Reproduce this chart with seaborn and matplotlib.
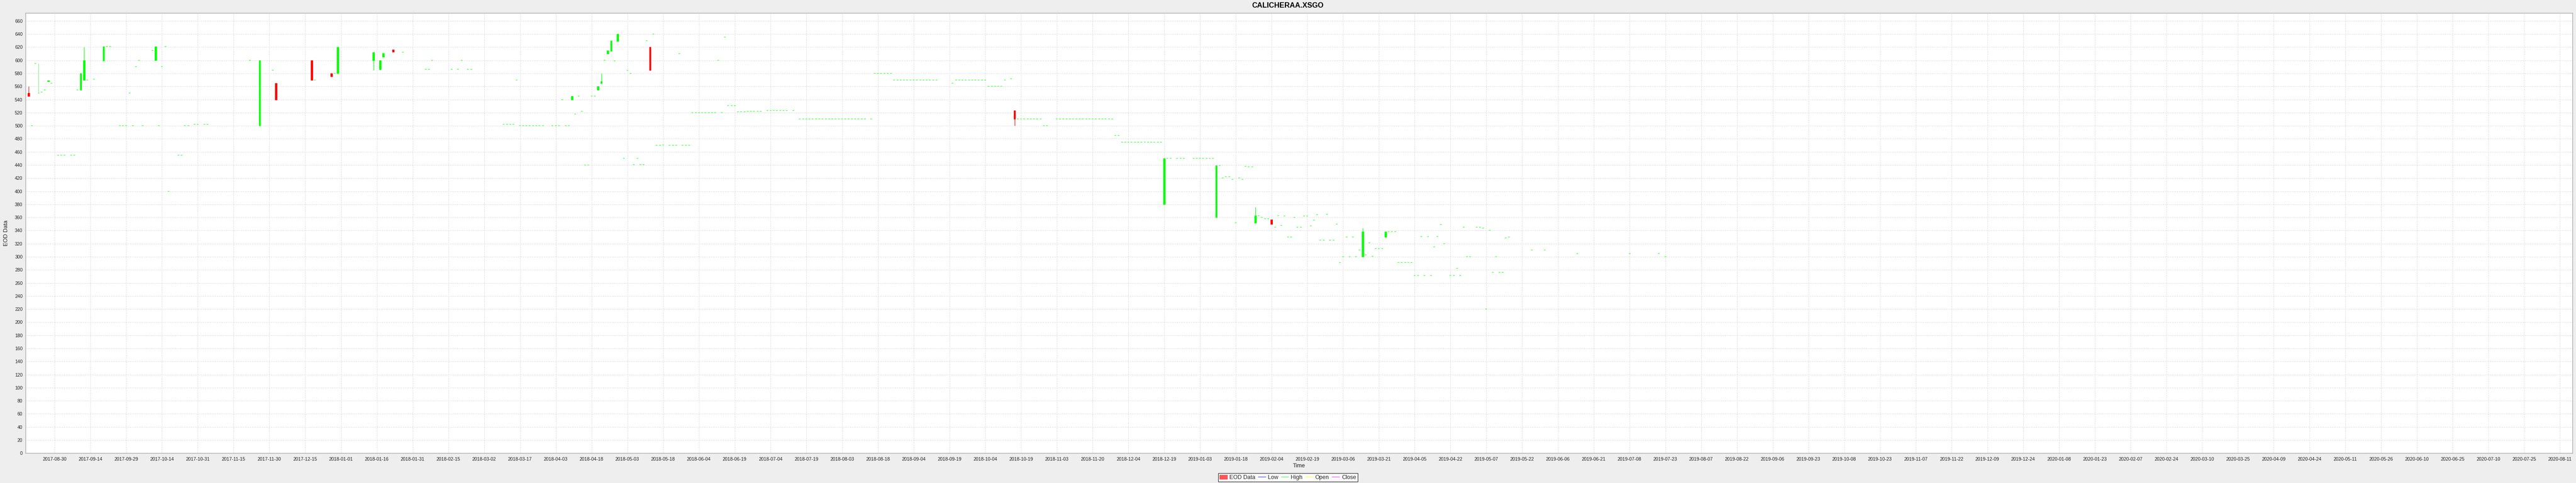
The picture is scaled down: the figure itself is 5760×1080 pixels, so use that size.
import matplotlib
matplotlib.use("Agg")
import matplotlib.pyplot as plt
import matplotlib.patches as mpatches
import matplotlib.lines as mlines
import pandas as pd
import seaborn as sns

# x axis is a Mon-Fri timeline: one unit = one weekday, day 0 = 2017-08-17
# Candles with a real body (day, open, high, low, close)
cndl_day = [1, 4, 7, 17, 18, 24, 40, 72, 77, 88, 94, 96, 107, 109, 110, 113,
            168, 176, 177, 179, 180, 182, 192, 304, 350, 366, 378, 383, 411, 418]
cndl_open = [550, 550, 568, 555, 570, 599, 600, 500, 565, 600, 580, 580, 600, 586, 605, 616,
             540, 555, 565, 610, 614, 629, 620, 523, 380, 360, 352, 357, 300, 330]
cndl_high = [560, 595, 570, 580, 620, 621, 621, 600, 565, 600, 580, 620, 612, 600, 611, 616,
             545, 560, 580, 615, 630, 640, 620, 523, 450, 439, 376, 357, 344, 338]
cndl_low = [545, 550, 568, 555, 570, 599, 600, 500, 540, 570, 575, 580, 585, 586, 605, 613,
            540, 555, 565, 610, 614, 629, 585, 500, 380, 360, 352, 350, 300, 330]
cndl_close = [545, 550, 569, 580, 600, 621, 621, 600, 540, 570, 575, 620, 612, 600, 611, 613,
              545, 560, 568, 615, 630, 640, 585, 510, 450, 439, 363, 350, 338, 338]

# Sessions where open = high = low = close
flat_day = [0, 2, 3, 5, 6, 8, 10, 11, 12, 14, 15, 16, 19, 21, 25, 26, 29, 30, 31, 32, 33, 34, 35, 36, 39,
            41, 42, 43, 44, 47, 48, 49, 50, 52, 53, 55, 56, 69, 76, 89, 95, 116, 123, 124, 125,
            131, 133, 134, 136, 137, 147, 148, 149, 150, 151, 152, 153, 154, 155, 156, 157, 158, 159,
            162, 163, 164, 165, 166, 167, 169, 170, 171, 172, 173, 174, 175, 178, 181, 184, 185, 186,
            187, 188, 189, 190, 191, 193, 194, 195, 196, 198, 199, 200, 201, 202, 203, 204,
            205, 206, 207, 208, 209, 210, 211, 212, 213, 214, 215, 216, 217, 218, 219, 220, 221,
            222, 223, 224, 225, 226, 228, 229, 230, 231, 232, 233, 234, 236,
            238, 239, 240, 241, 242, 243, 244, 245, 246, 247, 248, 249, 250, 251, 252, 253, 254,
            255, 256, 257, 258, 260, 261, 262, 263, 264, 265, 266,
            267, 268, 269, 270, 271, 272, 273, 274, 275, 276, 277, 278, 279, 280, 285,
            286, 287, 288, 289, 290, 291, 292, 293, 294, 295, 296, 297, 298, 299, 300, 301, 303,
            305, 306, 307, 308, 309, 310, 311, 312, 313, 314,
            317, 318, 319, 320, 321, 322, 323, 324, 325, 326, 327, 328, 329, 330, 331, 332, 333, 334,
            335, 336, 337, 338, 339, 340, 341, 342, 343, 344, 345, 346, 347, 348, 349,
            351, 352, 354, 355, 356, 359, 360, 361, 362, 363, 364, 365,
            367, 368, 369, 370, 371, 372, 373, 374, 375, 376, 377, 379, 380, 381, 382,
            384, 385, 386, 387, 388, 389, 390, 391, 392, 393, 394, 395, 396, 397, 398, 399,
            400, 401, 402, 403, 404, 405, 406, 407, 408, 409, 410, 412, 413, 414, 415, 416, 417,
            419, 420, 421, 422, 423, 424, 425, 426, 427, 428, 429, 430, 431, 432, 433, 434, 435, 436,
            438, 439, 440, 441, 442, 443, 444, 446, 447, 448, 449, 450, 451, 452, 453, 454, 455, 456,
            463, 467, 477, 493, 502, 504]
flat_price = [550, 500, 595, 551, 555, 565, 455, 455, 455, 455, 455, 555, 570, 571, 621, 621, 500, 500, 500,
              550, 500, 590, 600, 500, 615,
              500, 590, 621, 400, 455, 455, 500, 500, 502, 502, 502, 502, 600, 585, 570, 580, 612, 586, 586, 600,
              586, 586, 600, 586, 586, 502, 502, 502, 502, 570, 500, 500, 500, 500, 500, 500, 500, 500,
              500, 500, 500, 540, 500, 500, 518, 545, 522, 440, 440, 545, 545, 600, 599, 450, 585, 580,
              441, 450, 441, 441, 630, 640, 470, 470, 471, 470, 470, 470, 610, 470, 470, 470,
              520, 520, 520, 520, 520, 520, 520, 520, 600, 520, 635, 531, 531, 531, 521, 521, 521,
              522, 522, 522, 522, 522, 523, 523, 523, 523, 523, 523, 523, 523,
              510, 510, 510, 510, 510, 510, 510, 510, 510, 510, 510, 510, 510, 510, 510, 510, 510,
              510, 510, 510, 510, 510, 580, 580, 580, 580, 580, 580,
              570, 570, 570, 570, 570, 570, 570, 570, 570, 570, 570, 570, 570, 570, 565,
              570, 570, 570, 570, 570, 570, 570, 570, 570, 570, 560, 560, 560, 560, 560, 570, 572,
              510, 510, 510, 510, 510, 510, 510, 510, 500, 500,
              510, 510, 510, 510, 510, 510, 510, 510, 510, 510, 510, 510, 510, 510, 510, 510, 510, 510,
              485, 485, 475, 475, 475, 475, 475, 475, 475, 475, 475, 475, 475, 475, 475,
              450, 450, 450, 450, 450, 450, 450, 450, 450, 450, 450, 450,
              439, 420, 422, 422, 418, 352, 420, 418, 438, 437, 437, 363, 360, 358, 358,
              345, 363, 348, 362, 330, 330, 360, 345, 345, 362, 362, 347, 356, 364, 325, 325,
              365, 325, 325, 350, 291, 300, 330, 300, 330, 300, 310, 303, 321, 301, 312, 312, 312,
              338, 338, 338, 291, 291, 291, 291, 291, 271, 271, 331, 271, 331, 271, 315, 331, 349, 320,
              271, 271, 282, 271, 345, 300, 300, 345, 345, 344, 220, 340, 276, 300, 276, 276, 329, 330,
              310, 310, 305, 305, 305, 300]

# x tick labels, one every 11 weekdays starting at day 9
tick_labels = ["2017-08-30", "2017-09-14", "2017-09-29", "2017-10-14", "2017-10-31", "2017-11-15",
               "2017-11-30", "2017-12-15", "2018-01-01", "2018-01-16", "2018-01-31", "2018-02-15",
               "2018-03-02", "2018-03-17", "2018-04-03", "2018-04-18", "2018-05-03", "2018-05-18",
               "2018-06-04", "2018-06-19", "2018-07-04", "2018-07-19", "2018-08-03", "2018-08-18",
               "2018-09-04", "2018-09-19", "2018-10-04", "2018-10-19", "2018-11-03", "2018-11-20",
               "2018-12-04", "2018-12-19", "2019-01-03", "2019-01-18", "2019-02-04", "2019-02-19",
               "2019-03-06", "2019-03-21", "2019-04-05", "2019-04-22", "2019-05-07", "2019-05-22",
               "2019-06-06", "2019-06-21", "2019-07-08", "2019-07-23", "2019-08-07", "2019-08-22",
               "2019-09-06", "2019-09-23", "2019-10-08", "2019-10-23", "2019-11-07", "2019-11-22",
               "2019-12-09", "2019-12-24", "2020-01-08", "2020-01-23", "2020-02-07", "2020-02-24",
               "2020-03-10", "2020-03-25", "2020-04-09", "2020-04-24", "2020-05-11", "2020-05-26",
               "2020-06-10", "2020-06-25", "2020-07-10", "2020-07-25", "2020-08-11"]

UP, DOWN, FLAT = "#00ff00", "#ff0000", "#66ff66"

sns.set_style("white")
plt.rcParams["font.family"] = ["Liberation Sans", "DejaVu Sans"]

candles = pd.DataFrame({"day": cndl_day, "open": cndl_open, "high": cndl_high,
                        "low": cndl_low, "close": cndl_close})
flats = pd.DataFrame({"day": flat_day, "price": flat_price})


def candle_color(row):
    if row["close"] > row["open"]:
        return UP
    if row["close"] < row["open"]:
        return DOWN
    return FLAT


candles["color"] = candles.apply(candle_color, axis=1)

fig = plt.figure(figsize=(57.6, 10.8), dpi=100, facecolor="#eeeeee")
ax = fig.add_axes([0.00986, 0.0618, 0.98875, 0.9111])
ax.set_facecolor("white")

# wicks and bodies
ax.vlines(candles["day"], candles["low"], candles["high"], colors=candles["color"], linewidth=0.8, zorder=3)
body_bottom = candles[["open", "close"]].min(axis=1)
body_height = (candles["close"] - candles["open"]).abs()
ax.bar(candles["day"], body_height, bottom=body_bottom, width=0.5,
       color=candles["color"], edgecolor=candles["color"], linewidth=0.8, zorder=4)

# one-price sessions, drawn as tiny dashes
sns.scatterplot(data=flats, x="day", y="price", marker="_", s=9, linewidth=1.2,
                color=FLAT, ax=ax, zorder=4, legend=False)

ax.set_xlim(0, 782.8)
ax.set_ylim(0, 672)
ax.set_xticks([9 + 11 * i for i in range(len(tick_labels))])
ax.set_xticklabels(tick_labels)
ax.set_yticks(range(0, 661, 20))

ax.grid(True, color="#d4d4d4", linestyle=(0, (2, 2)), linewidth=0.7)
ax.set_axisbelow(True)
for s in ax.spines.values():
    s.set_color("#a8a8a8")
    s.set_linewidth(1)
ax.tick_params(axis="both", labelsize=7.6, colors="#a8a8a8", labelcolor="#222222",
               length=2.5, width=0.8, pad=2, direction="out")
ax.tick_params(axis="x", pad=4)

ax.set_xlabel("Time", fontsize=9.2, color="#222222", labelpad=3)
ax.set_ylabel("EOD Data", fontsize=9.2, color="#222222")
ax.yaxis.set_label_coords(-0.0064, 0.5)

fig.text(0.5, 0.988, "CALICHERAA.XSGO", ha="center", va="center",
         fontsize=11.8, fontweight="bold", color="black")

handles = [
    mpatches.Patch(facecolor="#ff5555", edgecolor="#ff5555", label="EOD Data"),
    mlines.Line2D([], [], color="#5555ff", linewidth=1, label="Low"),
    mlines.Line2D([], [], color="#55ff55", linewidth=1, label="High"),
    mlines.Line2D([], [], color="#ffff55", linewidth=1, label="Open"),
    mlines.Line2D([], [], color="#ff55ff", linewidth=1, label="Close"),
]
leg = fig.legend(handles=handles, loc="center", bbox_to_anchor=(0.5, 0.0115), ncol=5,
                 fontsize=9.2, frameon=True, fancybox=False, handlelength=1.3,
                 handleheight=0.7, handletextpad=0.4, columnspacing=0.5,
                 borderpad=0.25, borderaxespad=0)
leg.get_frame().set_edgecolor("black")
leg.get_frame().set_linewidth(0.9)

fig.savefig("out.png", dpi=100, facecolor="#eeeeee")
